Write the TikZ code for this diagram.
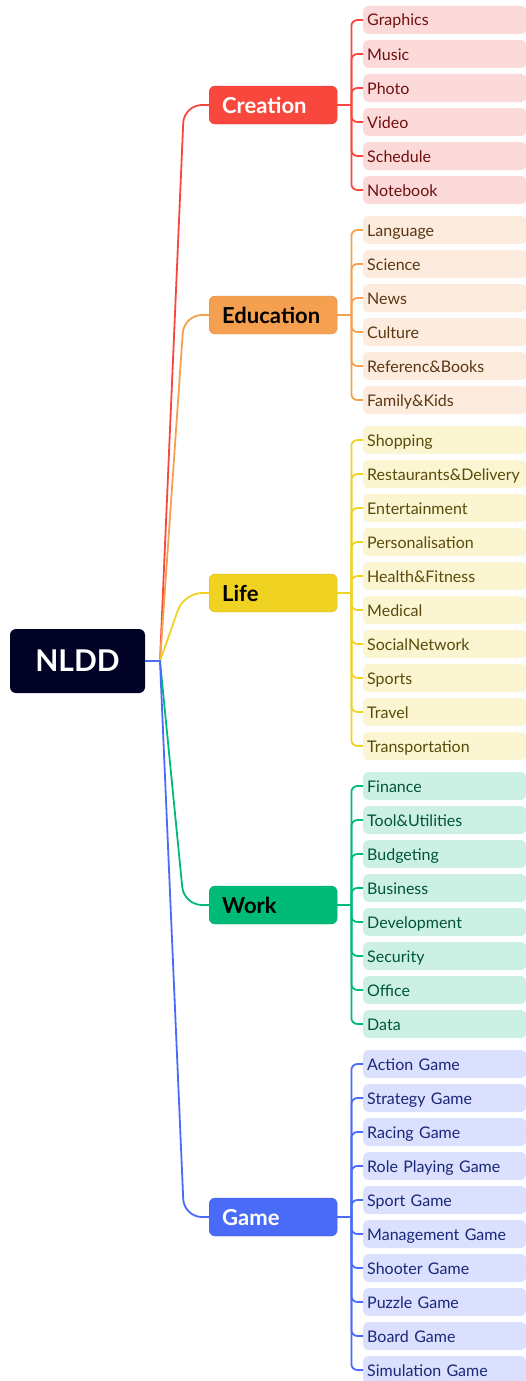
\documentclass[tikz,border=0pt]{standalone}
\usepackage{fontspec}
\setmainfont{Lato}
\usepackage{tikz}
\usetikzlibrary{calc,positioning}
\definecolor{nlddNavy}{RGB}{2,2,38}
\definecolor{nlddRed}{RGB}{248,72,62}
\definecolor{nlddRedLight}{RGB}{253,218,218}
\definecolor{nlddRedDark}{RGB}{110,16,16}
\definecolor{nlddOrange}{RGB}{245,160,80}
\definecolor{nlddOrangeLight}{RGB}{253,235,221}
\definecolor{nlddOrangeDark}{RGB}{90,55,20}
\definecolor{nlddYellow}{RGB}{240,210,35}
\definecolor{nlddYellowLight}{RGB}{252,245,210}
\definecolor{nlddYellowDark}{RGB}{90,75,10}
\definecolor{nlddGreen}{RGB}{0,186,120}
\definecolor{nlddGreenLight}{RGB}{204,241,228}
\definecolor{nlddGreenDark}{RGB}{0,85,55}
\definecolor{nlddBlue}{RGB}{74,107,247}
\definecolor{nlddBlueLight}{RGB}{218,224,253}
\definecolor{nlddBlueDark}{RGB}{25,40,120}

\begin{document}
\begin{tikzpicture}[x=1pt,y=-1pt,
  catbox/.style={rounded corners=6pt, anchor=west, text width=102pt, align=left,
    minimum height=38pt, inner xsep=13pt, text height=17.5pt, text depth=1pt,
    font=\fontsize{22}{24}\selectfont\bfseries},
  leafbox/.style={rounded corners=5pt, anchor=west, text width=155pt, align=left,
    minimum height=28pt, inner xsep=4pt, text height=13pt, text depth=1pt,
    font=\fontsize{16}{18}\selectfont},
  link/.style={line width=1.8pt, rounded corners=6pt}]
\useasboundingbox (0,0) rectangle (526,1381);

% root
\node[fill=nlddNavy, rounded corners=6pt, minimum width=135pt, minimum height=64pt,
  text=white, font=\fontsize{30}{32}\selectfont\bfseries] (root) at (77.5,661) {NLDD};
\coordinate (hub) at (160,661);

% main branches
\foreach \name/\label/\y/\col/\txt in {creation/Creation/105/nlddRed/white,
    education/Education/315/nlddOrange/black, life/Life/593/nlddYellow/black,
    work/Work/905/nlddGreen/black, game/Game/1217/nlddBlue/white}{
  \node[catbox, fill=\col, draw=\col!88!black, line width=0.4pt, text=\txt] (\name) at (209,\y) {\label};
  \draw[\col, line width=1.8pt] (root.east) -- (hub) [rounded corners=18pt] -- (184,\y) -- (\name.west);
  \coordinate (\name-j) at ($(\name.east)+(14,0)$);
  \draw[\col, line width=1.8pt] (\name.east) -- (\name-j);
}

% leaves
\foreach \t [count=\i from 0] in {Graphics,Music,Photo,Video,Schedule,Notebook}{
  \node[leafbox, fill=nlddRedLight, text=nlddRedDark] (cre\i) at (363,20+34*\i) {\t};
  \draw[link, nlddRed] (creation-j) |- (cre\i.west);
}
\foreach \t [count=\i from 0] in {Language,Science,News,Culture,Referenc\&Books,Family\&Kids}{
  \node[leafbox, fill=nlddOrangeLight, text=nlddOrangeDark] (edu\i) at (363,230+34*\i) {\t};
  \draw[link, nlddOrange] (education-j) |- (edu\i.west);
}
\foreach \t [count=\i from 0] in {Shopping,Restaurants\&Delivery,Entertainment,Personalisation,
    Health\&Fitness,Medical,SocialNetwork,Sports,Travel,Transportation}{
  \node[leafbox, fill=nlddYellowLight, text=nlddYellowDark] (lif\i) at (363,440+34*\i) {\t};
  \draw[link, nlddYellow] (life-j) |- (lif\i.west);
}
\foreach \t [count=\i from 0] in {Finance,Tool\&Utilities,Budgeting,Business,Development,
    Security,Office,Data}{
  \node[leafbox, fill=nlddGreenLight, text=nlddGreenDark] (wor\i) at (363,786+34*\i) {\t};
  \draw[link, nlddGreen] (work-j) |- (wor\i.west);
}
\foreach \t [count=\i from 0] in {Action Game,Strategy Game,Racing Game,Role Playing Game,
    Sport Game,Management Game,Shooter Game,Puzzle Game,Board Game,Simulation Game}{
  \node[leafbox, fill=nlddBlueLight, text=nlddBlueDark] (gam\i) at (363,1064+34*\i) {\t};
  \draw[link, nlddBlue] (game-j) |- (gam\i.west);
}
\end{tikzpicture}
\end{document}
